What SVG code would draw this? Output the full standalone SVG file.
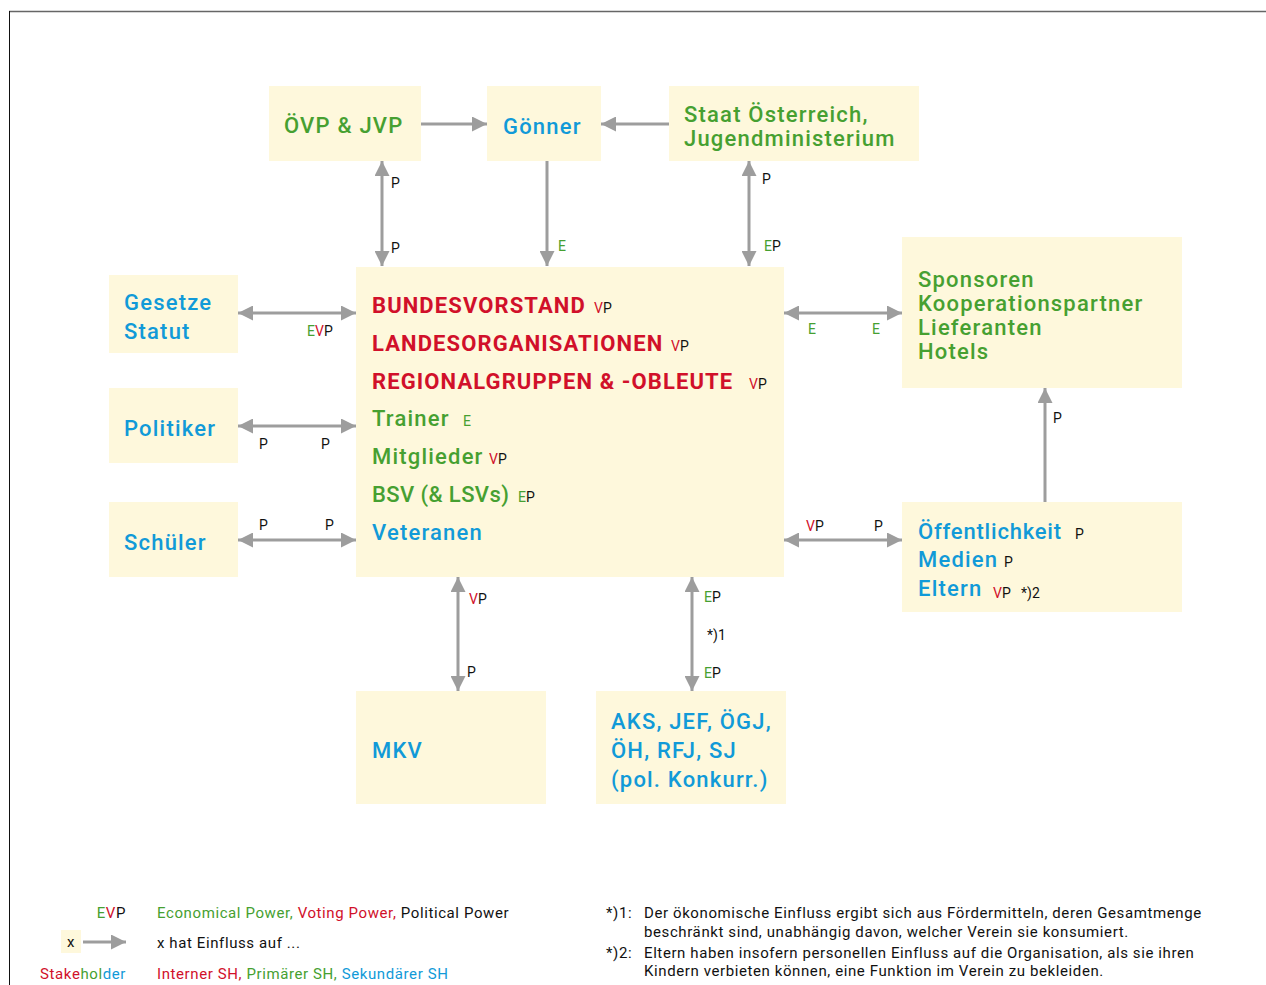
<svg xmlns="http://www.w3.org/2000/svg" width="1266" height="985" viewBox="0 0 1266 985">
<defs>
<marker id="ah" viewBox="0 0 10 10" refX="10" refY="5" markerWidth="6" markerHeight="5" markerUnits="strokeWidth" orient="auto-start-reverse">
<path d="M0,0 L10,5 L0,10 z" fill="#9d9d9d"/>
</marker>
<style>
.box{fill:#fef8dc}
.t{font-family:Roboto,"Liberation Sans",sans-serif;font-size:22px;letter-spacing:1.2px;font-weight:500}
.b{font-weight:bold;letter-spacing:1.1px}
.s{font-family:Roboto,"Liberation Sans",sans-serif;font-size:14px;fill:#111}
.f{font-size:15px;letter-spacing:0.6px}
.g{fill:#46a031}
.bl{fill:#119ad8}
.r{fill:#d1102a}
.k{fill:#111}
.c{stroke:#9d9d9d;stroke-width:3;fill:none;marker-end:url(#ah)}
.d{stroke:#9d9d9d;stroke-width:3;fill:none;marker-end:url(#ah);marker-start:url(#ah)}
</style>
</defs>
<rect width="1266" height="985" fill="#fff"/>
<line x1="9" y1="11.5" x2="1266" y2="11.5" stroke="#666" stroke-width="1.5"/>
<line x1="9.5" y1="11" x2="9.5" y2="985" stroke="#111" stroke-width="1"/>

<g id="connectors">
<line class="c" x1="421" y1="124" x2="487" y2="124"/>
<line class="c" x1="669" y1="124" x2="601" y2="124"/>
<line class="d" x1="382" y1="161" x2="382" y2="266"/>
<line class="c" x1="547" y1="161" x2="547" y2="266"/>
<line class="d" x1="749" y1="161" x2="749" y2="266"/>
<line class="d" x1="238" y1="313" x2="356" y2="313"/>
<line class="d" x1="238" y1="426" x2="356" y2="426"/>
<line class="d" x1="238" y1="540" x2="356" y2="540"/>
<line class="d" x1="784" y1="313" x2="902" y2="313"/>
<line class="d" x1="784" y1="540" x2="902" y2="540"/>
<line class="c" x1="1045" y1="502" x2="1045" y2="388"/>
<line class="d" x1="458" y1="577" x2="458" y2="691"/>
<line class="d" x1="692" y1="577" x2="692" y2="691"/>
<text class="s" x="391" y="188">P</text>
<text class="s" x="391" y="253">P</text>
<text class="s g" x="558" y="251">E</text>
<text class="s" x="762" y="184">P</text>
<text class="s" x="764" y="251"><tspan class="g">E</tspan>P</text>
<text class="s" x="307" y="336"><tspan class="g">E</tspan><tspan class="r">V</tspan>P</text>
<text class="s" x="259" y="449">P</text>
<text class="s" x="321" y="449">P</text>
<text class="s" x="259" y="530">P</text>
<text class="s" x="325" y="530">P</text>
<text class="s g" x="808" y="334">E</text>
<text class="s g" x="872" y="334">E</text>
<text class="s" x="806" y="531"><tspan class="r">V</tspan>P</text>
<text class="s" x="874" y="531">P</text>
<text class="s" x="1053" y="423">P</text>
<text class="s" x="469" y="604"><tspan class="r">V</tspan>P</text>
<text class="s" x="467" y="677">P</text>
<text class="s" x="704" y="602"><tspan class="g">E</tspan>P</text>
<text class="s" x="707" y="640">*)1</text>
<text class="s" x="704" y="678"><tspan class="g">E</tspan>P</text>
</g>

<g id="oevp"><rect class="box" x="269" y="86" width="152" height="75"/><text class="t g" x="284" y="133">ÖVP &amp; JVP</text></g>
<g id="goenner"><rect class="box" x="487" y="86" width="114" height="75"/><text class="t bl" x="503" y="134">Gönner</text></g>
<g id="staat"><rect class="box" x="669" y="86" width="250" height="75"/><text class="t g" x="684" y="122">Staat Österreich,</text><text class="t g" x="684" y="146">Jugendministerium</text></g>

<g id="zentral"><rect class="box" x="356" y="267" width="428" height="310"/>
<text class="t b r" x="372" y="313">BUNDESVORSTAND</text><text class="s" x="594" y="313"><tspan class="r">V</tspan>P</text>
<text class="t b r" x="372" y="351">LANDESORGANISATIONEN</text><text class="s" x="671" y="351"><tspan class="r">V</tspan>P</text>
<text class="t b r" x="372" y="389">REGIONALGRUPPEN &amp; -OBLEUTE</text><text class="s" x="749" y="389"><tspan class="r">V</tspan>P</text>
<text class="t g" x="372" y="426">Trainer</text><text class="s g" x="463" y="426">E</text>
<text class="t g" x="372" y="464">Mitglieder</text><text class="s" x="489" y="464"><tspan class="r">V</tspan>P</text>
<text class="t g" x="372" y="502" style="letter-spacing:0.4px">BSV (&amp; LSVs)</text><text class="s" x="518" y="502"><tspan class="g">E</tspan>P</text>
<text class="t bl" x="372" y="540">Veteranen</text>
</g>

<g id="gesetze"><rect class="box" x="109" y="275" width="129" height="78"/><text class="t bl" x="124" y="310">Gesetze</text><text class="t bl" x="124" y="339">Statut</text></g>
<g id="politiker"><rect class="box" x="109" y="388" width="129" height="75"/><text class="t bl" x="124" y="436">Politiker</text></g>
<g id="schueler"><rect class="box" x="109" y="502" width="129" height="75"/><text class="t bl" x="124" y="550">Schüler</text></g>

<g id="sponsoren"><rect class="box" x="902" y="237" width="280" height="151"/>
<text class="t g" x="918" y="287">Sponsoren</text>
<text class="t g" x="918" y="311">Kooperationspartner</text>
<text class="t g" x="918" y="335">Lieferanten</text>
<text class="t g" x="918" y="359">Hotels</text>
</g>
<g id="oeffentlichkeit"><rect class="box" x="902" y="502" width="280" height="110"/>
<text class="t bl" x="918" y="539" style="letter-spacing:0.8px">Öffentlichkeit</text><text class="s" x="1075" y="539">P</text>
<text class="t bl" x="918" y="567">Medien</text><text class="s" x="1004" y="567">P</text>
<text class="t bl" x="918" y="596">Eltern</text><text class="s" x="993" y="598"><tspan class="r">V</tspan>P</text><text class="s" x="1021" y="598">*)2</text>
</g>

<g id="mkv"><rect class="box" x="356" y="691" width="190" height="113"/><text class="t bl" x="372" y="758">MKV</text></g>
<g id="aks"><rect class="box" x="596" y="691" width="190" height="113"/>
<text class="t bl" x="611" y="729">AKS, JEF, ÖGJ,</text>
<text class="t bl" x="611" y="758">ÖH, RFJ, SJ</text>
<text class="t bl" x="611" y="787">(pol. Konkurr.)</text>
</g>

<g id="legende">
<text class="s f" x="126" y="918" text-anchor="end"><tspan class="g">E</tspan><tspan class="r">V</tspan>P</text>
<text class="s f" x="157" y="918"><tspan class="g">Economical Power, </tspan><tspan class="r">Voting Power, </tspan>Political Power</text>
<rect class="box" x="61" y="930" width="20" height="23"/>
<text class="s f" x="71" y="947" text-anchor="middle">x</text>
<line class="c" x1="83" y1="942" x2="126" y2="942"/>
<text class="s f" x="157" y="948">x hat Einfluss auf ...</text>
<text class="s f" x="126" y="979" text-anchor="end"><tspan class="r">Stake</tspan><tspan class="g">hol</tspan><tspan class="bl">der</tspan></text>
<text class="s f" x="157" y="979"><tspan class="r">Interner SH, </tspan><tspan class="g">Primärer SH, </tspan><tspan class="bl">Sekundärer SH</tspan></text>
</g>

<g id="fussnoten">
<text class="s f" x="606" y="918">*)1:</text>
<text class="s f" x="644" y="918">Der ökonomische Einfluss ergibt sich aus Fördermitteln, deren Gesamtmenge</text>
<text class="s f" x="644" y="937">beschränkt sind, unabhängig davon, welcher Verein sie konsumiert.</text>
<text class="s f" x="606" y="958">*)2:</text>
<text class="s f" x="644" y="958">Eltern haben insofern personellen Einfluss auf die Organisation, als sie ihren</text>
<text class="s f" x="644" y="976">Kindern verbieten können, eine Funktion im Verein zu bekleiden.</text>
</g>
</svg>
